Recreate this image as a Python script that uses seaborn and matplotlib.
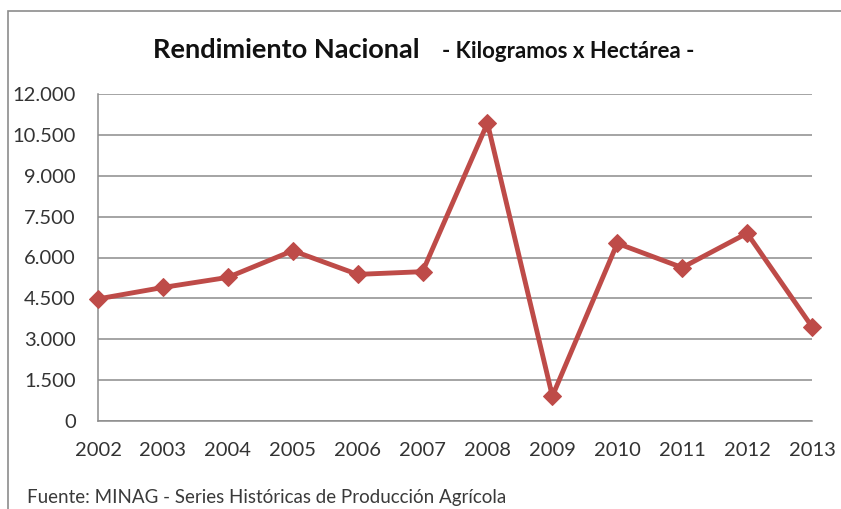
import numpy as np
import matplotlib
matplotlib.use("Agg")
import matplotlib.pyplot as plt
import seaborn as sns
import pandas as pd
from matplotlib.patches import Rectangle

years = [2002, 2003, 2004, 2005, 2006, 2007, 2008, 2009, 2010, 2011, 2012, 2013]
rendimiento = [4480, 4900, 5270, 6250, 5380, 5480, 10930, 910, 6520, 5630, 6890, 3460]
y_ticks = [0, 1500, 3000, 4500, 6000, 7500, 9000, 10500, 12000]

df = pd.DataFrame({"anio": years, "kg_ha": rendimiento})

sns.set_style("white")
plt.rcParams["font.family"] = ["Lato", "DejaVu Sans"]

fig = plt.figure(figsize=(8.41, 5.09), dpi=100)
ax = fig.add_axes([98 / 841, 1 - 421 / 509, 714 / 841, 327 / 509])

line_color = "#BE4B48"
sns.lineplot(data=df, x="anio", y="kg_ha", ax=ax, color=line_color,
             linewidth=3.5, marker="D", markersize=9,
             markeredgecolor=line_color, clip_on=False, zorder=5)

ax.set_xlim(years[0], years[-1])
ax.set_ylim(0, 12000)
ax.set_xticks(years)
ax.set_xticklabels([str(y) for y in years])
ax.set_yticks(y_ticks)
ax.set_yticklabels([f"{v:,.0f}".replace(",", ".") for v in y_ticks])
ax.set_xlabel("")
ax.set_ylabel("")

grid_c = "#8C8C8C"
ax.grid(axis="y", color=grid_c, linewidth=1.1)
ax.grid(axis="x", visible=False)
for s in ["top", "right"]:
    ax.spines[s].set_visible(False)
for s in ["left", "bottom"]:
    ax.spines[s].set_color(grid_c)
    ax.spines[s].set_linewidth(1.1)
ax.tick_params(axis="both", which="major", direction="out", length=6,
               color=grid_c, width=1.1, labelsize=14.5, labelcolor="#333333")
ax.tick_params(axis="y", pad=10)
ax.tick_params(axis="x", pad=9)

fig.text(153 / 841, 1 - 58 / 509, "Rendimiento Nacional", fontsize=19.5,
         fontweight="bold", color="#111111", ha="left", va="baseline")
fig.text(442 / 841, 1 - 58 / 509, "- Kilogramos x Hectárea -", fontsize=16,
         fontweight="bold", color="#111111", ha="left", va="baseline")
fig.text(27 / 841, 1 - 503 / 509,
         "Fuente: MINAG - Series Históricas de Producción Agrícola",
         fontsize=13.5, color="#3A3A3A", ha="left", va="baseline")

fig.patches.append(Rectangle((8 / 841, -0.1), 1.2, 1 - 11 / 509 + 0.1,
                             transform=fig.transFigure, fill=False,
                             edgecolor="#8C8C8C", linewidth=1.2))

fig.savefig("out.png", dpi=100)
